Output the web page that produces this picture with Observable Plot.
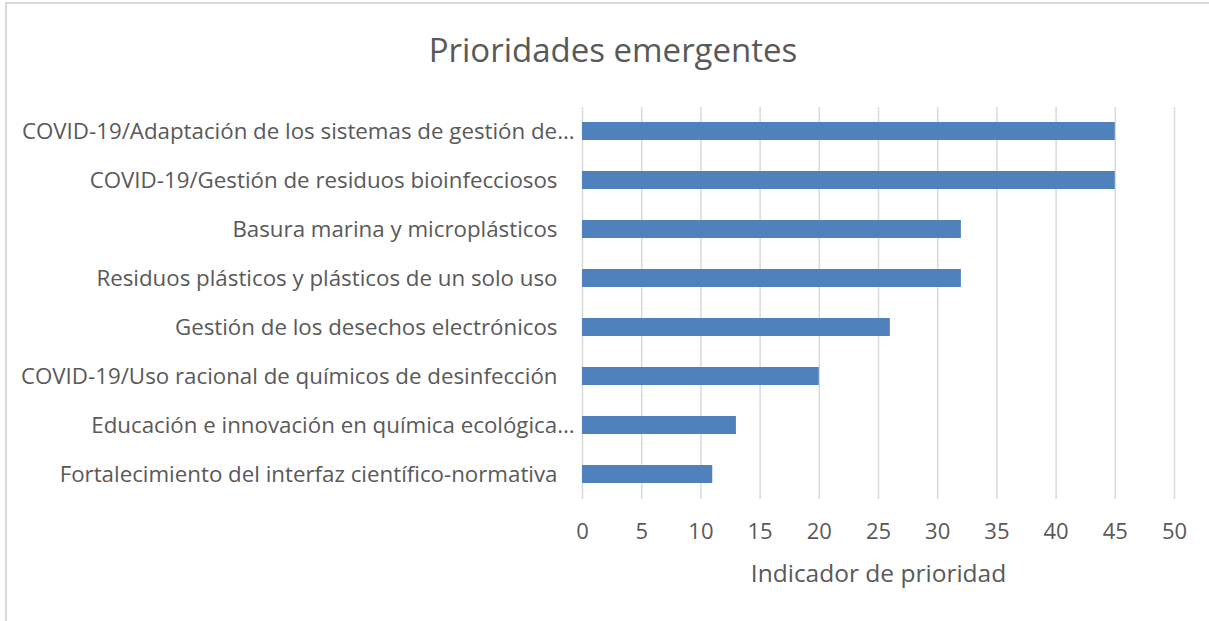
<!DOCTYPE html>
<html>
<head>
<meta charset="utf-8">
<script src="https://cdn.jsdelivr.net/npm/d3@7"></script>
<script src="https://cdn.jsdelivr.net/npm/@observablehq/plot@0.6"></script>
<style>
  html, body { margin: 0; padding: 0; background: #fff; }
  body { width: 1209px; height: 621px; overflow: hidden; position: relative; font-family: "Open Sans", sans-serif; }
  #frame { position: absolute; left: 5px; top: 2px; width: 1230px; height: 640px; border-left: 2px solid #d9d9d9; border-top: 2px solid #d9d9d9; box-sizing: border-box; }
  #title { position: absolute; left: 0; width: 1226px; top: 30px; text-align: center; font-size: 33px; color: #595959; line-height: 40px; }
  #chart { position: absolute; left: 0; top: 95px; }
</style>
</head>
<body>
<div id="frame"></div>
<div id="title">Prioridades emergentes</div>
<div id="chart"></div>
<script>
const categories = [
  "COVID-19/Adaptación de los sistemas de gestión de…",
  "COVID-19/Gestión de residuos bioinfecciosos",
  "Basura marina y microplásticos",
  "Residuos plásticos y plásticos de un solo uso",
  "Gestión de los desechos electrónicos",
  "COVID-19/Uso racional de químicos de desinfección",
  "Educación e innovación en química ecológica…",
  "Fortalecimiento del interfaz científico-normativa"
];
const values = [45, 45, 32, 32, 26, 20, 13, 11];
const xTicks = [0, 5, 10, 15, 20, 25, 30, 35, 40, 45, 50];
const xLabel = "Indicador de prioridad";

const data = categories.map((c, i) => ({category: c, value: values[i]}));
const truncated = categories.filter(c => c.endsWith("…"));
const full = categories.filter(c => !c.endsWith("…"));

const chart = Plot.plot({
  width: 1209,
  height: 526,
  marginTop: 12,
  marginBottom: 122,
  marginLeft: 582,
  marginRight: 35,
  style: {fontFamily: "'Open Sans', sans-serif", fontSize: "22px", color: "#595959", background: "transparent"},
  x: {domain: [0, 50]},
  y: {domain: categories, paddingInner: 0.63, paddingOuter: 0.315},
  marks: [
    Plot.gridX(xTicks, {stroke: "#d9d9d9", strokeOpacity: 1, strokeWidth: 1.5}),
    Plot.barX(data, {x: "value", y: "category", fill: "#4f81bd"}),
    Plot.axisY(full, {tickSize: 0, tickPadding: 25, label: null, fill: "#595959", fontSize: 22.3}),
    Plot.axisY(truncated, {tickSize: 0, tickPadding: 8, label: null, fill: "#595959", fontSize: 22.3}),
    Plot.axisX(xTicks, {tickSize: 0, tickPadding: 24, label: null, fill: "#595959", fontSize: 22}),
    Plot.text([xLabel], {frameAnchor: "bottom", dy: 82, fill: "#595959", fontSize: 24.5})
  ]
});
document.getElementById("chart").appendChild(chart);
</script>
</body>
</html>
